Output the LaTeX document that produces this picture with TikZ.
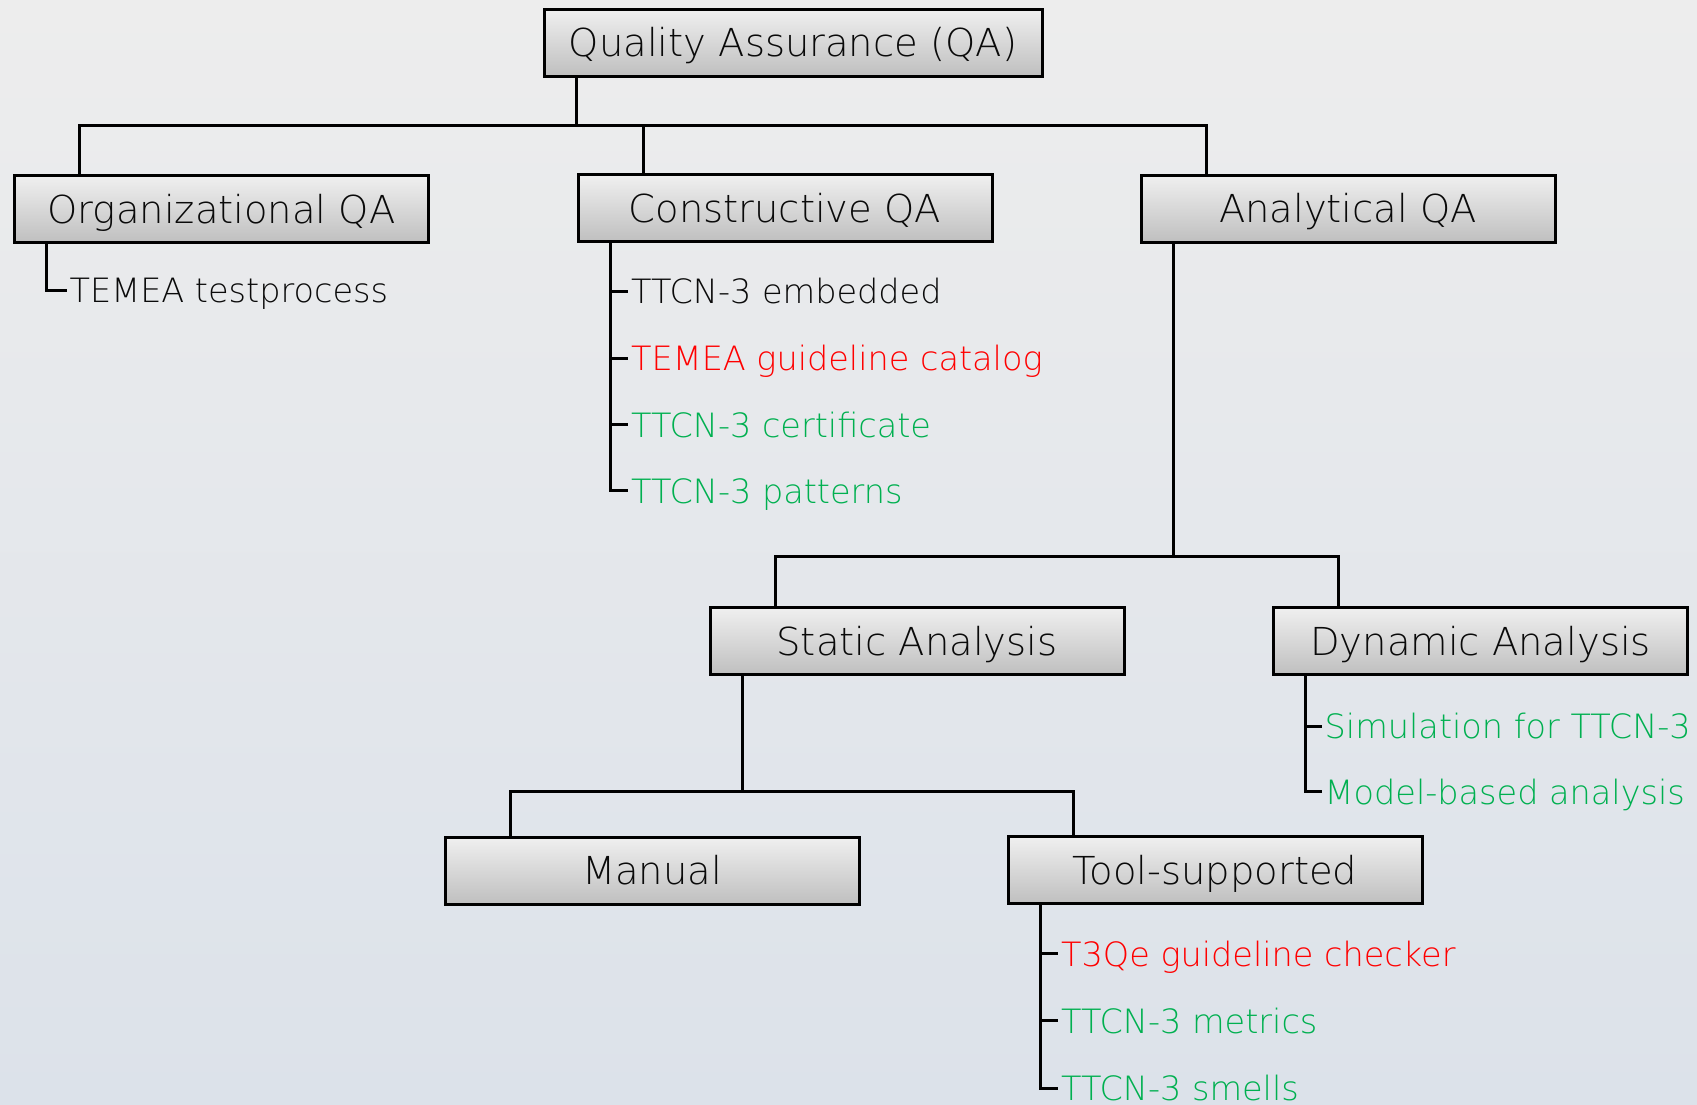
\documentclass[tikz,border=0pt]{standalone}
\usepackage{fontspec}
\IfFontExistsTF{DejaVu Sans ExtraLight}{\setmainfont{DejaVu Sans ExtraLight}}{\setmainfont{DejaVu Sans}}
\usetikzlibrary{calc}
\usetikzlibrary{positioning}

\definecolor{qared}{RGB}{255,0,0}
\definecolor{qagreen}{RGB}{0,176,80}
\definecolor{qaink}{RGB}{10,10,10}

\begin{document}
\begin{tikzpicture}[x=1pt, y=-1pt,
    box/.style={rectangle, draw=black, line width=3pt, top color=black!6, bottom color=black!25,
        minimum width=414pt, minimum height=67pt, inner sep=0pt, text=qaink,
        font=\fontsize{38.5}{40}\selectfont, text height=28pt, text depth=0pt},
    item/.style={anchor=west, inner xsep=3pt, inner ysep=0pt, text=qaink,
        font=\fontsize{33.5}{36}\selectfont, text height=25pt, text depth=0pt},
    conn/.style={line width=3pt}]
        \def\spine{33.5pt}
        \def\drop{66.5pt}
        % background
        \fill[top color={rgb,255:red,237;green,237;blue,237}, bottom color={rgb,255:red,220;green,226;blue,234}]
            (0,0) rectangle (1697,1104);
        \useasboundingbox (0,0) rectangle (1697,1104);
        % boxes
        \node[box, minimum width=498pt] (qa) at (793,42.5) {Quality Assurance (QA)};
        \node[box] (org) at (221.5,209) {Organizational QA};
        \node[box] (cqa) at (785,208) {Constructive QA};
        \node[box] (aqa) at (1348,208.5) {Analytical QA};
        \node[box] (sta) at (917,641) {Static Analysis};
        \node[box] (dyn) at (1480.5,641) {Dynamic Analysis};
        \node[box] (man) at (652,870.5) {Manual};
        \node[box] (tool) at (1215,870) {Tool-supported};
        % lists
        \node[item] (tp) at (66.5,290) {TEMEA testprocess};
        \node[item] (c1) at (628,291) {TTCN-3 embedded};
        \node[item, text=qared] (c2) at (628,358) {TEMEA guideline catalog};
        \node[item, text=qagreen] (c3) at (628,424.5) {TTCN-3 certificate};
        \node[item, text=qagreen] (c4) at (628,490.5) {TTCN-3 patterns};
        \node[item, text=qagreen] (d1) at (1321.5,726) {Simulation for TTCN-3};
        \node[item, text=qagreen] (d2) at (1321.5,791.5) {Model-based analysis};
        \node[item, text=qared] (t1) at (1058,953.5) {T3Qe guideline checker};
        \node[item, text=qagreen] (t2) at (1058,1020.5) {TTCN-3 metrics};
        \node[item, text=qagreen] (t3) at (1058,1088) {TTCN-3 smells};
        % tree
        \coordinate (tbus) at (0,125.5);
        \coordinate (mbus) at (0,556);
        \coordinate (lbus) at (0,791);
        \draw[conn] ([xshift=\spine]qa.south west) -- ([xshift=\spine]qa.south west |- tbus);
        \draw[conn] ([xshift=\drop]org.north west) |- ([xshift=\drop]aqa.north west |- tbus) -- ([xshift=\drop]aqa.north west);
        \draw[conn] ([xshift=\drop]cqa.north west) -- ([xshift=\drop]cqa.north west |- tbus);
        \draw[conn] ([xshift=\spine]aqa.south west) -- ([xshift=\spine]aqa.south west |- mbus);
        \draw[conn] ([xshift=\drop]sta.north west) |- ([xshift=\drop]dyn.north west |- mbus) -- ([xshift=\drop]dyn.north west);
        \draw[conn] ([xshift=\spine]sta.south west) -- ([xshift=\spine]sta.south west |- lbus);
        \draw[conn] ([xshift=\drop]man.north west) |- ([xshift=\drop]tool.north west |- lbus) -- ([xshift=\drop]tool.north west);
        % list connectors
        \draw[conn] ([xshift=\spine]org.south west) |- (tp.west);
        \draw[conn] ([xshift=\spine]cqa.south west) coordinate (cs) |- (c4.west);
        \foreach \n in {c1,c2,c3}
            \draw[conn] (cs |- \n.west) -- (\n.west);
        \draw[conn] ([xshift=\spine]dyn.south west) coordinate (ds) |- (d2.west);
        \draw[conn] (ds |- d1.west) -- (d1.west);
        \draw[conn] ([xshift=\spine]tool.south west) coordinate (ts) |- (t3.west);
        \foreach \n in {t1,t2}
            \draw[conn] (ts |- \n.west) -- (\n.west);
    \end{tikzpicture}
\end{document}
